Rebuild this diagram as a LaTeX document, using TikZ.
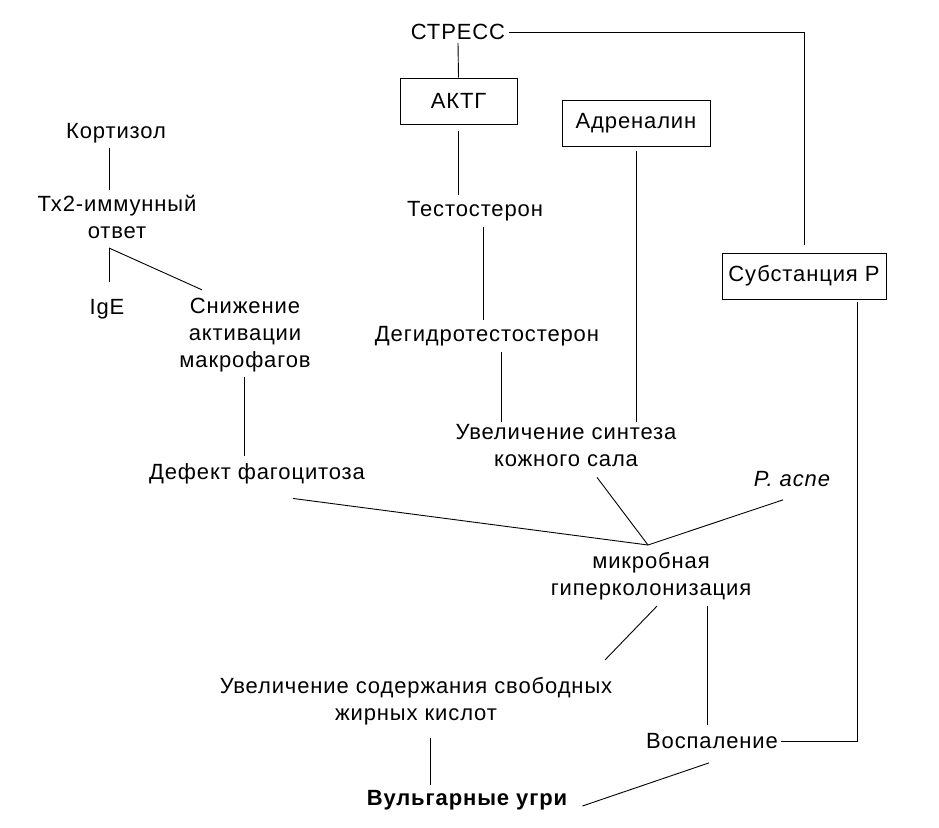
\documentclass[tikz,border=0pt]{standalone}
\usepackage{fontspec}
\setmainfont{Liberation Sans}[LetterSpace=4]
\begin{document}
\begin{tikzpicture}[x=1pt,y=-1pt,
  every node/.style={font=\fontsize{22}{27}\selectfont, inner sep=0pt, align=center},
  box/.style={draw, line width=0.9pt},
  ln/.style={line width=0.9pt}]
\useasboundingbox[fill=white] (0,0) rectangle (939,827);
% nodes
\node (stress) at (458,32) {СТРЕСС};
\node[box, minimum width=117pt, minimum height=46pt] (aktg) at (458.5,101) {АКТГ};
\node[box, minimum width=148pt, minimum height=46pt] (adr) at (636,123) {Адреналин};
\node[box, minimum width=164pt, minimum height=46pt] (subp) at (804,276) {Субстанция Р};
\node (kort) at (116,133) {Кортизол};
\node (tx) at (117,217) {Тх2-иммунный\\ответ};
\node (ige) at (107,309) {IgE};
\node (snizh) at (245,335) {Снижение\\активации\\макрофагов};
\node (test) at (475,211) {Тестостерон};
\node (degid) at (487,336) {Дегидротестостерон};
\node (sint) at (566,446) {Увеличение синтеза\\кожного сала};
\node (defekt) at (257,474) {Дефект фагоцитоза};
\node (pacne) at (792,479) {\itshape P. acne};
\node (mikrob) at (651,576) {микробная\\гиперколонизация};
\node (svob) at (416,701) {Увеличение содержания свободных\\жирных кислот};
\node (vosp) at (712,741) {Воспаление};
\node (vulg) at (467,800) {\bfseries Вульгарные угри};
\coordinate (hub) at (648,545);
\coordinate (txj) at (109,248);
% connectors
\draw[ln] ([xshift=4pt]stress.east) -| ([yshift=8pt]subp.north);
\draw[ln] ([yshift=-3pt]stress.south) -- (aktg.north);
\draw[ln] ([yshift=-7pt]aktg.south) -- ([yshift=6pt]aktg.south |- test.north);
\draw[ln] ([xshift=8pt,yshift=-6pt]test.south) -- ([xshift=8pt,yshift=6pt]test.south |- degid.north);
\draw[ln] ([xshift=14pt,yshift=-6pt]degid.south) -- ([xshift=14pt,yshift=3pt]degid.south |- sint.north);
\draw[ln] ([yshift=-5pt]adr.south) -- ([yshift=3pt]adr.south |- sint.north);
\draw[ln] ([xshift=53pt,yshift=-3pt]subp.south) |- ([xshift=3pt]vosp.east);
\draw[ln] ([xshift=-7pt,yshift=-5pt]kort.south) -- ([xshift=-8pt,yshift=5pt]tx.north);
\draw[ln] (txj) -- ([yshift=17pt]txj |- ige.north);
\draw[ln] (txj) -- ([xshift=-43pt,yshift=8pt]snizh.north);
\draw[ln] ([xshift=-1pt,yshift=-5pt]snizh.south) -- ([xshift=-13pt,yshift=8pt]defekt.north);
\draw[ln] ([xshift=36pt,yshift=-14pt]defekt.south) -- (hub);
\draw[ln] ([xshift=31pt,yshift=-10pt]sint.south) -- (hub);
\draw[ln] ([xshift=-9pt,yshift=-13pt]pacne.south) -- (hub);
\draw[ln] ([xshift=6pt,yshift=-6pt]mikrob.south) -- ([xshift=189pt,yshift=17pt]svob.north);
\draw[ln] ([xshift=56pt,yshift=-6pt]mikrob.south) -- ([xshift=-5pt,yshift=8pt]vosp.north);
\draw[ln] ([xshift=14pt,yshift=-13pt]svob.south) -- ([xshift=-37pt,yshift=5pt]vulg.north);
\draw[ln] ([xshift=-3pt,yshift=-14pt]vosp.south) -- ([xshift=15pt,yshift=-6pt]vulg.east);
\end{tikzpicture}
\end{document}
